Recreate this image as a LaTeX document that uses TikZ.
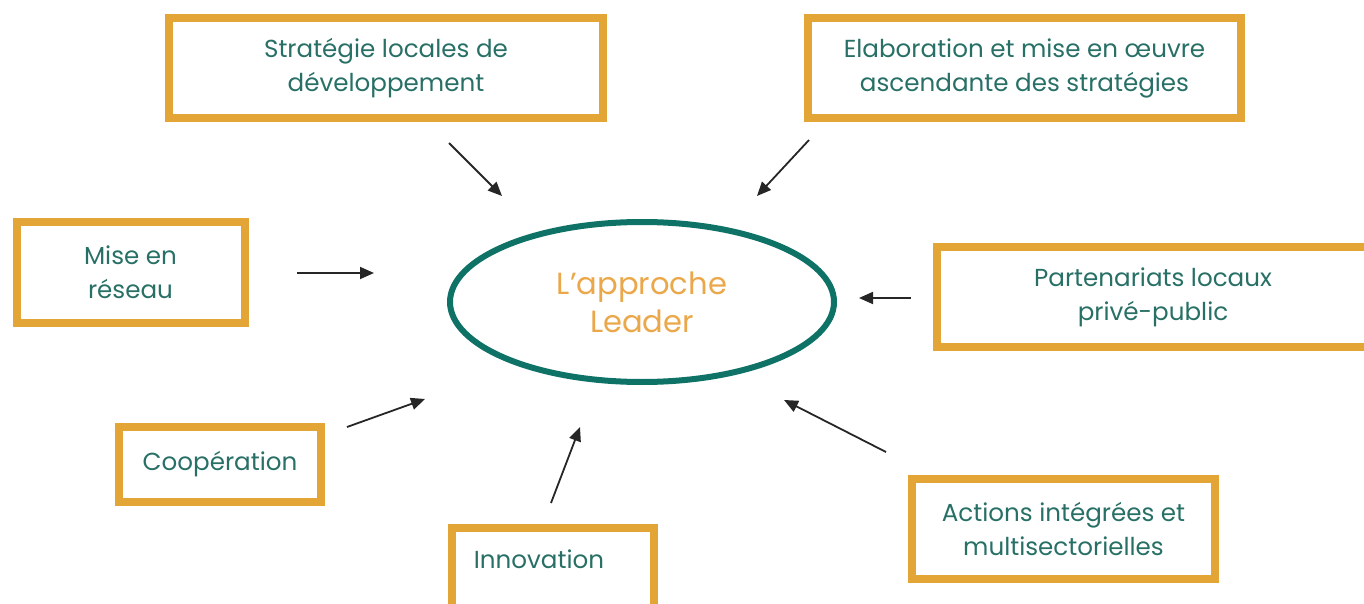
\documentclass[tikz,border=0pt]{standalone}
\usepackage{fontspec}
\setmainfont{Poppins}
\usetikzlibrary{arrows.meta,shapes.geometric}
\definecolor{boxorange}{RGB}{228,165,55}
\definecolor{txtteal}{RGB}{40,112,102}
\definecolor{elteal}{RGB}{14,114,102}
\definecolor{ltorange}{RGB}{234,168,74}
\tikzset{
  boxnode/.style={draw=boxorange, line width=4pt, inner sep=0pt, align=center,
    text=txtteal, font=\fontsize{12.3}{17}\selectfont},
  txtnode/.style={inner sep=0pt, align=center, text=txtteal, font=\fontsize{12.3}{17}\selectfont},
  arr/.style={-{Triangle[length=7pt,width=6pt]}, line width=0.9pt, black!85},
}
\begin{document}
\begin{tikzpicture}[x=0.5pt,y=-0.5pt]
\useasboundingbox (0,0) rectangle (1364,604);
\clip (0,0) rectangle (1364,604);
% centre
\node[ellipse, draw=elteal, line width=3pt, minimum width=192pt, minimum height=80pt,
  inner sep=0pt, align=center, text=ltorange, font=\fontsize{15.3}{19}\selectfont]
  (leader) at (642,302) {L’approche\\Leader};
% boxes
\node[boxnode, minimum width=217pt, minimum height=50pt] (strat) at (386,68)
  {Stratégie locales de\\développement};
\node[boxnode, minimum width=216.5pt, minimum height=50pt] (elab) at (1024.5,68)
  {Elaboration et mise en œuvre\\ascendante des stratégies};
\node[boxnode, minimum width=114pt, minimum height=50.5pt] (mise) at (130.5,272.5)
  {Mise en\\réseau};
\node[boxnode, minimum width=216pt, minimum height=50pt] (part) at (1153,297)
  {Partenariats locaux\\privé-public};
\node[boxnode, minimum width=101pt, minimum height=37.5pt] (coop) at (220,464.5)
  {Coopération};
\node[draw=boxorange, line width=4pt, inner sep=0pt, minimum width=101pt,
  minimum height=44pt] (innovbox) at (553,572) {};
\node[txtnode] (innov) at (539,559) {Innovation};
\node[boxnode, minimum width=151.5pt, minimum height=50pt] (act) at (1063.5,529)
  {Actions intégrées et\\multisectorielles};
% arrow endpoints
\coordinate (s1) at (449,143); \coordinate (e1) at (502,196);
\coordinate (s2) at (809,140); \coordinate (e2) at (757,196);
\coordinate (s3) at (297,273); \coordinate (e3) at (374,273);
\coordinate (s4) at (911,298); \coordinate (e4) at (859,298);
\coordinate (s5) at (347,427); \coordinate (e5) at (425,399);
\coordinate (s6) at (551,503); \coordinate (e6) at (580,427);
\coordinate (s7) at (886,452); \coordinate (e7) at (784,400);
\draw[arr] (s1) -- (e1);
\draw[arr] (s2) -- (e2);
\draw[arr] (s3) -- (e3);
\draw[arr] (s4) -- (e4);
\draw[arr] (s5) -- (e5);
\draw[arr] (s6) -- (e6);
\draw[arr] (s7) -- (e7);
\end{tikzpicture}
\end{document}
